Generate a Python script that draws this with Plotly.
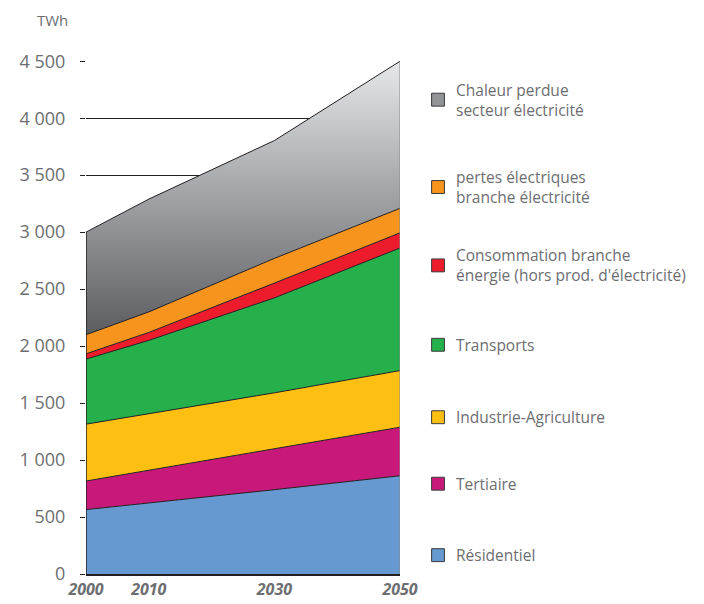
import plotly.graph_objects as go

# ---- data ----
years = [2000, 2010, 2030, 2050]
residentiel = [565, 622, 740, 862]
tertiaire = [251, 289, 357, 426]
industrie = [499, 497, 493, 497]
transports = [571, 642, 833, 1076]
conso_energie = [46, 70, 130, 133]
pertes_elec = [168, 180, 217, 215]
chaleur_perdue = [900, 990, 1034, 1291]

series_names = [
    "Résidentiel",
    "Tertiaire",
    "Industrie-Agriculture",
    "Transports",
    "Consommation branche<br>énergie (hors prod. d'électricité)",
    "pertes électriques<br>branche électricité",
    "Chaleur perdue<br>secteur électricité",
]
series_values = [residentiel, tertiaire, industrie, transports,
                 conso_energie, pertes_elec, chaleur_perdue]
series_colors = ["#6699d0", "#c8187a", "#fdbf12", "#25b04c",
                 "#ec1c2d", "#f7941e", "#939498"]

y_tickvals = [0, 500, 1000, 1500, 2000, 2500, 3000, 3500, 4000, 4500]
y_ticktext = ["0", "500", "1 000", "1 500", "2 000", "2 500",
              "3 000", "3 500", "4 000", "4 500"]
x_ticktext = ["2000", "2010", "2030", "2050"]

TXT = "#6d6e71"
FONT = "Open Sans"

fig = go.Figure()

for i, (name, vals, col) in enumerate(zip(series_names, series_values, series_colors)):
    kw = {}
    if i == len(series_names) - 1:
        kw["fillgradient"] = dict(
            type="vertical",
            colorscale=[[0, "#55565a"], [1, "#e6e7e9"]],
            start=2000, stop=4500,
        )
    else:
        kw["fillcolor"] = col
    fig.add_trace(go.Scatter(
        x=years, y=vals, stackgroup="one", mode="lines",
        line=dict(color="#231f20", width=1),
        name=name, showlegend=False, hoverinfo="skip", **kw,
    ))

totals = [sum(v[k] for v in series_values) for k in range(len(years))]
# left and right edges of the stacked area
fig.add_trace(go.Scatter(x=[years[0], years[0]], y=[0, totals[0]], mode="lines",
                         line=dict(color="#231f20", width=1.5), showlegend=False,
                         hoverinfo="skip"))
fig.add_trace(go.Scatter(x=[years[-1], years[-1]], y=[0, totals[-1]], mode="lines",
                         line=dict(color="#8a8a8a", width=1), showlegend=False,
                         hoverinfo="skip"))

# ---- manual legend (page pixel positions, page has an 8px body offset) ----
OFF = 8
L, R, T, B = 82 - OFF, 400 - OFF, 61 - OFF, 578 - OFF
W, H = R - L, B - T
def px(x):
    return (x - OFF - L) / W
def py(y):
    return (B - (y - OFF)) / H

legend_centers = [559, 487, 420, 347, 267, 188, 100]
shapes = []
annotations = []
for name, col, cy in zip(series_names, series_colors, legend_centers):
    shapes.append(dict(type="rect", xref="paper", yref="paper",
                       x0=px(432), x1=px(445), y0=py(cy + 6.5), y1=py(cy - 6.5),
                       fillcolor=col, line=dict(color="#3a3a3a", width=1)))
    annotations.append(dict(xref="paper", yref="paper", x=px(455), y=py(cy),
                            text=name, showarrow=False, xanchor="left",
                            yanchor="middle", align="left",
                            font=dict(family=FONT, size=15.5, color=TXT)))

annotations.append(dict(xref="paper", yref="paper", x=px(48), y=py(OFF),
                        text="TWh", showarrow=False, xanchor="center",
                        yanchor="top",
                        font=dict(family=FONT, size=15, color=TXT)))

fig.update_layout(
    width=704, height=604,
    margin=dict(l=L, r=704 - R, t=T, b=604 - B, pad=0),
    paper_bgcolor="white", plot_bgcolor="white",
    showlegend=False,
    shapes=shapes, annotations=annotations,
    xaxis=dict(range=[years[0], years[-1]], tickvals=years, ticktext=x_ticktext,
               showgrid=False, zeroline=False, showline=True,
               linecolor="#231f20", linewidth=1.5, ticks="",
               tickfont=dict(family=FONT, size=16, color=TXT,
                             weight="bold", style="italic")),
    yaxis=dict(range=[0, 4502], tickvals=y_tickvals, ticktext=y_ticktext,
               showgrid=True, gridcolor="#231f20", gridwidth=1,
               zeroline=False, showline=False,
               ticks="outside", ticklen=5, tickcolor="#231f20", tickwidth=1,
               ticklabelstandoff=11,
               tickfont=dict(family=FONT, size=18, color=TXT)),
)

fig.write_html("out.html")
